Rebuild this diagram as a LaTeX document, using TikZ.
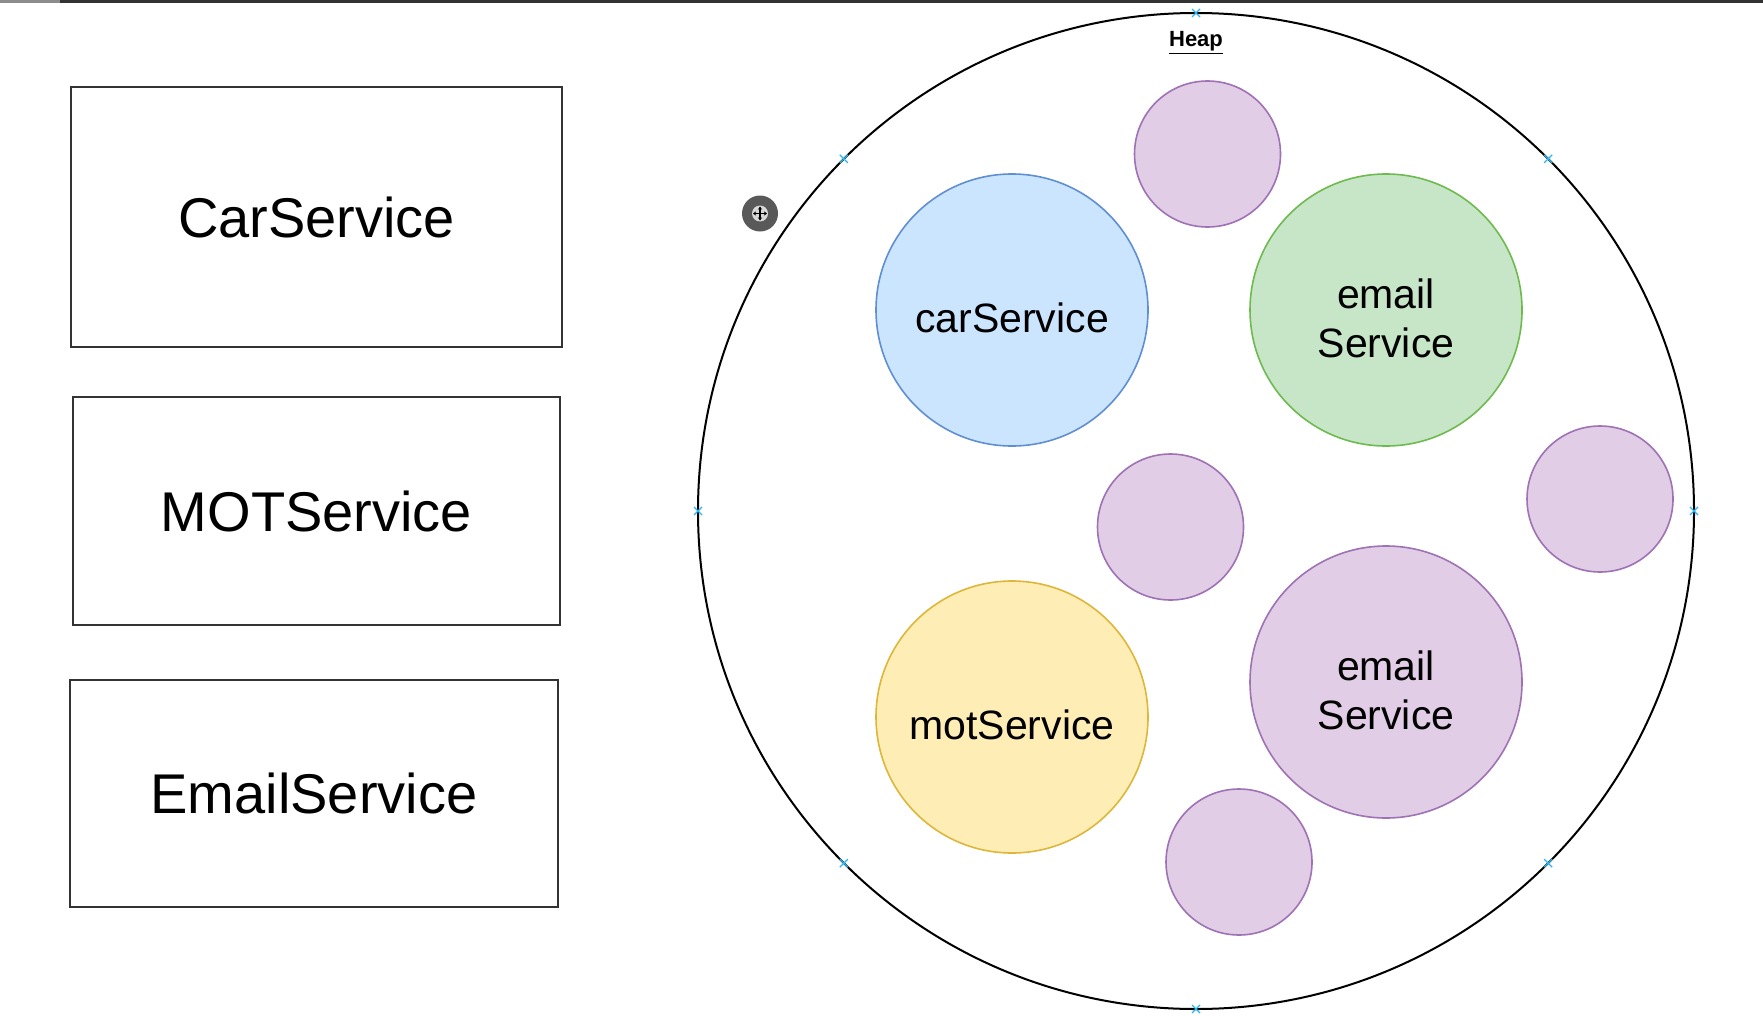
\documentclass[tikz,border=0pt]{standalone}
\usepackage{fontspec}
\setmainfont{Liberation Sans}
\usetikzlibrary{arrows.meta,calc}
\definecolor{bluefill}{HTML}{CCE5FF}
\definecolor{bluedraw}{HTML}{5F8FD2}
\definecolor{greenfill}{HTML}{C7E6C7}
\definecolor{greendraw}{HTML}{6DBA4E}
\definecolor{yellowfill}{HTML}{FEEEB5}
\definecolor{yellowdraw}{HTML}{DDB63A}
\definecolor{purplefill}{HTML}{E1CDE6}
\definecolor{purpledraw}{HTML}{9E72B4}
\definecolor{markcol}{HTML}{29B6F2}
\definecolor{boxdraw}{HTML}{333333}
\tikzset{
  classbox/.style={draw=boxdraw, line width=2pt, fill=white, inner sep=0pt,
    font=\fontsize{56}{62}\selectfont},
  bean/.style={circle, line width=1.6pt, inner sep=0pt, minimum size=#1},
  beantext/.style={align=center, yshift=-8pt, font=\fontsize{41}{49}\selectfont},
  bluebean/.style={bean=272pt, fill=bluefill, draw=bluedraw},
  greenbean/.style={bean=272pt, fill=greenfill, draw=greendraw},
  yellowbean/.style={bean=272pt, fill=yellowfill, draw=yellowdraw},
  purplebean/.style={bean=#1, fill=purplefill, draw=purpledraw},
  heapmark/.style={draw=markcol, line width=1.2pt},
}
\begin{document}
\begin{tikzpicture}[x=1pt, y=-1pt]
\useasboundingbox (0,0) rectangle (1763,1022);
\fill[white] (0,0) rectangle (1763,1022);
% top border line
\coordinate (t0) at (0,1.5);
\coordinate (tl) at (60,1.5);
\coordinate (tr) at (1763,1.5);
\draw[line width=2.5pt, black!45] (t0) -- (tl);
\draw[line width=2.5pt, black!80] (tl) -- (tr);

% class boxes
\node[classbox, minimum width=491pt, minimum height=260pt] (box1) at (316.5,217) {CarService};
\node[classbox, minimum width=487pt, minimum height=228pt] (box2) at (316.5,511) {MOTService};
\node[classbox, minimum width=488pt, minimum height=227pt] (box3) at (314,793.5) {EmailService};

% heap
\node[circle, draw=black, line width=2pt, minimum size=996pt, inner sep=0pt] (heap) at (1196,511) {};
\node[font=\fontsize{22}{26}\selectfont\bfseries, anchor=base] (heaplabel) at (1196,47) {\underline{Heap}};

% markers on the heap outline
\foreach \a in {0,45,...,315}{
  \draw[heapmark] ($(heap.center)+(\a:498)+(-4,-4)$) -- ($(heap.center)+(\a:498)+(4,4)$);
  \draw[heapmark] ($(heap.center)+(\a:498)+(-4,4)$) -- ($(heap.center)+(\a:498)+(4,-4)$);
}

% beans
\node[bluebean, label={[beantext]center:carService}] (cs) at (1012,310) {};
\node[greenbean, label={[beantext]center:email\\Service}] (es1) at (1386,310) {};
\node[yellowbean, label={[beantext]center:motService}] (ms) at (1012,717) {};
\node[purplebean=272pt, label={[beantext]center:email\\Service}] (es2) at (1386,682) {};
\node[purplebean=146pt] (p1) at (1207.5,154) {};
\node[purplebean=146pt] (p2) at (1170.5,527) {};
\node[purplebean=146pt] (p3) at (1600,499) {};
\node[purplebean=146pt] (p4) at (1239,862) {};

% move handle
\node[circle, fill=black!65, minimum size=36pt, inner sep=0pt] (move) at (760,213.5) {};
\fill[black!15] (move.center) circle (8pt);
\draw[line width=1.1pt, -{Stealth[length=3pt,width=4pt]}] (move.center) -- ++(0,-7);
\draw[line width=1.1pt, -{Stealth[length=3pt,width=4pt]}] (move.center) -- ++(0,7);
\draw[line width=1.1pt, -{Stealth[length=3pt,width=4pt]}] (move.center) -- ++(-7,0);
\draw[line width=1.1pt, -{Stealth[length=3pt,width=4pt]}] (move.center) -- ++(7,0);
\end{tikzpicture}
\end{document}
